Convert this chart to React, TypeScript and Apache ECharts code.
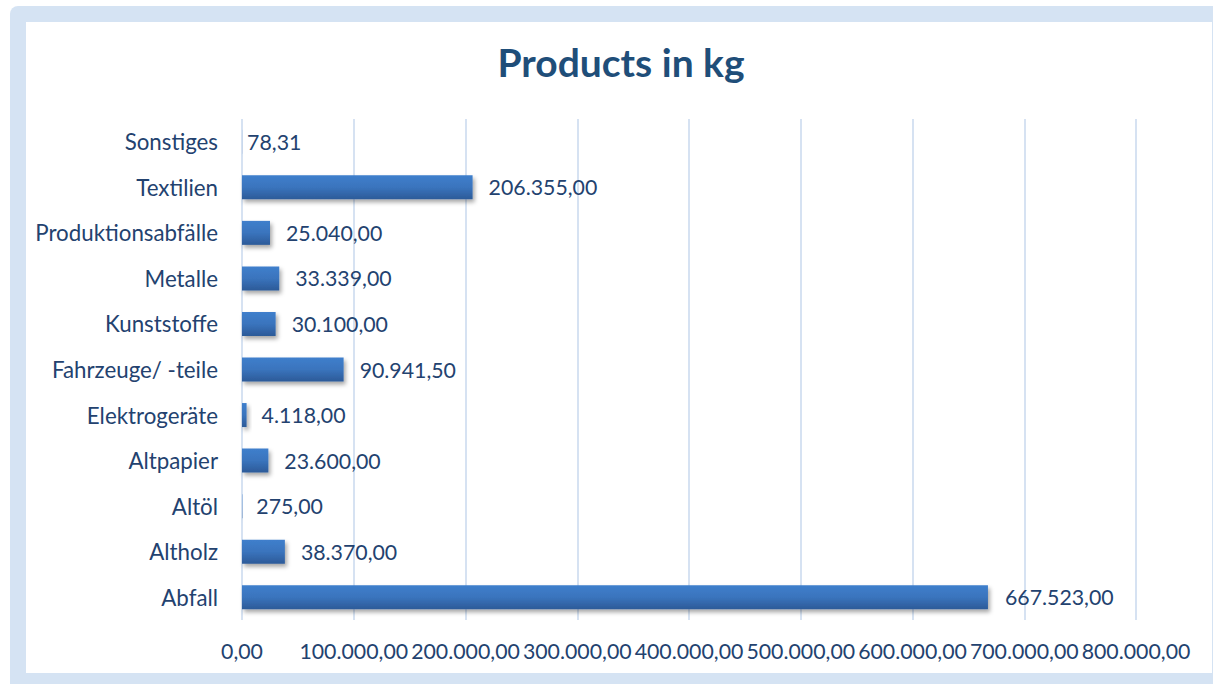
import React, { useEffect, useRef } from "react";
import * as echarts from "echarts";

const categories = [
  "Abfall",
  "Altholz",
  "Altöl",
  "Altpapier",
  "Elektrogeräte",
  "Fahrzeuge/ -teile",
  "Kunststoffe",
  "Metalle",
  "Produktionsabfälle",
  "Textilien",
  "Sonstiges",
];
const values = [667523, 38370, 275, 23600, 4118, 90941.5, 30100, 33339, 25040, 206355, 78.31];
const labelGaps = [17, 16, 14, 16, 15, 16, 16, 16, 16, 16, 5];
const titleText = "Products in kg";
const axisMax = 800000;
const axisStep = 100000;

function fmtDE(v: number): string {
  const fixed = Math.abs(v).toFixed(2);
  const [intPart, dec] = fixed.split(".");
  const withDots = intPart.replace(/\B(?=(\d{3})+(?!\d))/g, ".");
  return (v < 0 ? "-" : "") + withDots + "," + dec;
}

const FONT = "Lato, 'Open Sans', sans-serif";
const TXT = "#23426f";

export default function App() {
  const ref = useRef<HTMLDivElement>(null);
  useEffect(() => {
    document.body.style.margin = "0";
    if (!ref.current) return;
    const chart = echarts.init(ref.current, undefined, { renderer: "svg" });
    chart.setOption({
      animation: false,
      backgroundColor: "#ffffff",
      graphic: [
        {
          type: "rect",
          z: -10,
          silent: true,
          shape: { x: 10, y: 6, width: 1220, height: 690, r: [8, 0, 0, 0] },
          style: { fill: "#d5e3f3" },
        },
        {
          type: "rect",
          z: -9,
          silent: true,
          shape: { x: 26, y: 22, width: 1186, height: 651 },
          style: { fill: "#ffffff" },
        },
      ],
      title: {
        text: titleText,
        left: 616,
        top: 37,
        textAlign: "center",
        textStyle: { fontFamily: FONT, fontSize: 39, fontWeight: "bold", color: "#1f4e79" },
      },
      grid: { left: 242, right: 77, top: 119, bottom: 64, containLabel: false },
      xAxis: {
        type: "value",
        min: 0,
        max: axisMax,
        interval: axisStep,
        axisLine: { show: false },
        axisTick: { show: false },
        splitLine: { show: true, lineStyle: { color: "#d6e2f2", width: 2 } },
        axisLabel: {
          margin: 20,
          fontFamily: FONT,
          fontSize: 21.3,
          color: TXT,
          hideOverlap: false,
          formatter: (v: number) => fmtDE(v),
        },
      },
      yAxis: {
        type: "category",
        data: categories,
        axisLine: { show: false },
        axisTick: { show: false },
        splitLine: { show: false },
        axisLabel: { margin: 24, fontFamily: FONT, fontSize: 22.3, color: TXT },
      },
      series: [
        {
          type: "bar",
          barWidth: 24,
          data: values.map((v, i) => ({
            value: v,
            label: { distance: labelGaps[i] },
          })),
          itemStyle: {
            color: new echarts.graphic.LinearGradient(0, 0, 0, 1, [
              { offset: 0, color: "#3f7fcc" },
              { offset: 0.5, color: "#3a74bd" },
              { offset: 1, color: "#2c5a98" },
            ]),
            shadowColor: "rgba(0,0,0,0.35)",
            shadowBlur: 4,
            shadowOffsetX: 2,
            shadowOffsetY: 3,
          },
          label: {
            show: true,
            position: "right",
            fontFamily: FONT,
            fontSize: 21.3,
            color: TXT,
            formatter: (p: any) => fmtDE(p.value),
          },
        },
      ],
    });
    return () => chart.dispose();
  }, []);
  return <div ref={ref} style={{ width: 1213, height: 684 }} />;
}
